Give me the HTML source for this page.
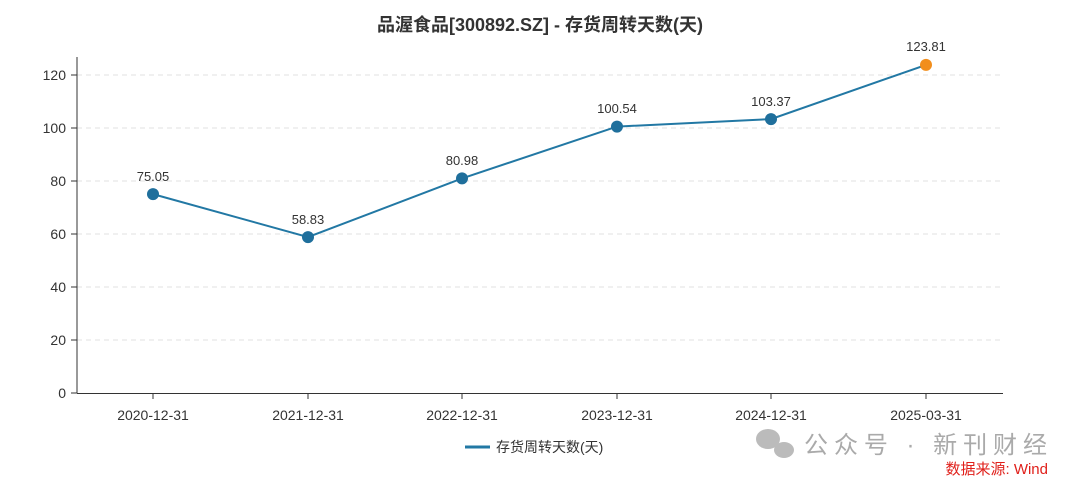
<!DOCTYPE html>
<html><head><meta charset="utf-8"><style>
html,body{margin:0;padding:0;background:#fff;}
svg text{font-family:"Liberation Sans","Noto Sans CJK SC",sans-serif;}
</style></head><body>
<svg width="1080" height="489" viewBox="0 0 1080 489" xmlns="http://www.w3.org/2000/svg">
<rect width="1080" height="489" fill="#fff"/>
<text x="540" y="31" text-anchor="middle" font-size="18" font-weight="bold" fill="#333">品渥食品[300892.SZ] - 存货周转天数(天)</text>
<g stroke="#e0e0e0" stroke-dasharray="5,4" stroke-width="1">
<line x1="77" y1="75" x2="1003" y2="75"/>
<line x1="77" y1="128" x2="1003" y2="128"/>
<line x1="77" y1="181" x2="1003" y2="181"/>
<line x1="77" y1="234" x2="1003" y2="234"/>
<line x1="77" y1="287" x2="1003" y2="287"/>
<line x1="77" y1="340" x2="1003" y2="340"/>
</g>
<g stroke="#333" stroke-width="1">
<line x1="77" y1="57" x2="77" y2="393"/>
<line x1="77" y1="393.5" x2="1003" y2="393.5"/>
<line x1="71" y1="75" x2="77" y2="75"/><line x1="71" y1="128" x2="77" y2="128"/>
<line x1="71" y1="181" x2="77" y2="181"/><line x1="71" y1="234" x2="77" y2="234"/>
<line x1="71" y1="287" x2="77" y2="287"/><line x1="71" y1="340" x2="77" y2="340"/>
<line x1="71" y1="393" x2="77" y2="393"/>
<line x1="153" y1="393" x2="153" y2="399"/><line x1="308" y1="393" x2="308" y2="399"/>
<line x1="462" y1="393" x2="462" y2="399"/><line x1="617" y1="393" x2="617" y2="399"/>
<line x1="771" y1="393" x2="771" y2="399"/><line x1="926" y1="393" x2="926" y2="399"/>
</g>
<g font-size="14" fill="#333" text-anchor="end">
<text x="66" y="80">120</text><text x="66" y="133">100</text><text x="66" y="186">80</text>
<text x="66" y="239">60</text><text x="66" y="292">40</text><text x="66" y="345">20</text><text x="66" y="398">0</text>
</g>
<g font-size="14" fill="#333" text-anchor="middle">
<text x="153" y="420">2020-12-31</text><text x="308" y="420">2021-12-31</text>
<text x="462" y="420">2022-12-31</text><text x="617" y="420">2023-12-31</text>
<text x="771" y="420">2024-12-31</text><text x="926" y="420">2025-03-31</text>
</g>
<polyline points="153,194.1 308,237.1 462,178.4 617,126.6 771,119.1 926,64.9" fill="none" stroke="#2278a4" stroke-width="2"/>
<g fill="#1f6f9c">
<circle cx="153" cy="194.1" r="6"/><circle cx="308" cy="237.1" r="6"/><circle cx="462" cy="178.4" r="6"/>
<circle cx="617" cy="126.6" r="6"/><circle cx="771" cy="119.1" r="6"/>
</g>
<circle cx="926" cy="64.9" r="6" fill="#f28e1c"/>
<g font-size="13" fill="#333" text-anchor="middle">
<text x="153" y="181">75.05</text><text x="308" y="224">58.83</text><text x="462" y="165">80.98</text>
<text x="617" y="113">100.54</text><text x="771" y="106">103.37</text><text x="926" y="51">123.81</text>
</g>
<line x1="465" y1="447" x2="490" y2="447" stroke="#2278a4" stroke-width="3"/>
<text x="496" y="452" font-size="14" fill="#333">存货周转天数(天)</text>
<g fill="#bbb"><ellipse cx="768" cy="439" rx="12" ry="10"/><ellipse cx="784" cy="450" rx="10" ry="8"/></g>
<text x="804" y="453" font-size="24" fill="#aaa" textLength="243" lengthAdjust="spacing">公众号 · 新刊财经</text>
<text x="1048" y="474" font-size="15" fill="#e0201b" text-anchor="end">数据来源: Wind</text>
</svg>
</body></html>
